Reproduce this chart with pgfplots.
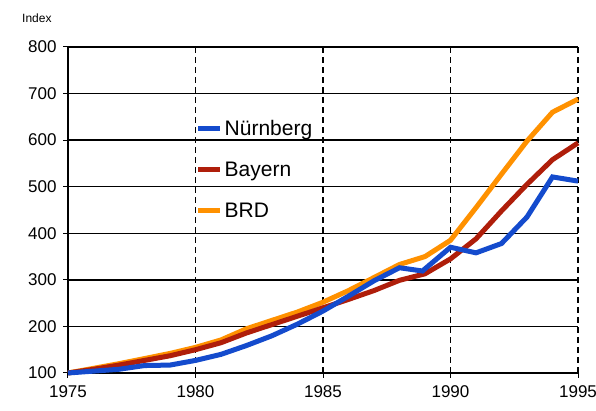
\documentclass[border=0pt]{standalone}
\usepackage{pgfplots}
\pgfplotsset{compat=1.18}
\usepackage{fontspec}
\setmainfont{Liberation Sans}
\definecolor{nbg}{RGB}{20,75,205}
\definecolor{bay}{RGB}{175,30,10}
\definecolor{brd}{RGB}{255,145,0}
\begin{document}
\begin{tikzpicture}
\begin{axis}[
  scale only axis,
  width=510pt, height=326pt,
  xmin=1975, xmax=1995, ymin=100, ymax=800,
  axis lines=left,
  axis line style={line width=2.5pt, -},
  xtick={1975,1980,1985,1990,1995},
  xticklabels={1975,1980,1985,1990,1995},
  ytick={100,200,...,800},
  /pgf/number format/assume math mode=true,
  tick label style={font=\fontsize{17}{19}\selectfont},
  xticklabel style={yshift=-4pt},
  yticklabel style={xshift=-3pt},
  tick align=outside,
  major tick length=5pt,
  tick style={black, line width=1pt},
  ymajorgrids, xmajorgrids,
  y grid style={black, line width=1.3pt},
  x grid style={black, line width=1.5pt, dash pattern=on 6pt off 4pt},
  clip=false,
  reverse legend,
  legend style={at={(axis cs:1980,648)}, anchor=north west, draw=none, fill=none,
    font=\fontsize{21}{23}\selectfont, row sep=21pt, inner sep=0pt},
  legend cell align=left,
  legend image code/.code={\draw[#1, line width=5pt] (0pt,0pt) -- (22pt,0pt);},
]
\addplot[brd, line width=5pt, sharp plot] coordinates {
(1975,100)(1976,110)(1977,120)(1978,131)(1979,142)(1980,155)(1981,171)(1982,195)(1983,213)(1984,231)(1985,252)(1986,277)(1987,305)(1988,333)(1989,350)(1990,385)(1991,455)(1992,527)(1993,598)(1994,660)(1995,688)};
\addlegendentry{BRD}
\addplot[bay, line width=5pt, sharp plot] coordinates {
(1975,100)(1976,108)(1977,117)(1978,127)(1979,137)(1980,150)(1981,165)(1982,186)(1983,204)(1984,222)(1985,240)(1986,258)(1987,277)(1988,299)(1989,313)(1990,345)(1991,388)(1992,448)(1993,505)(1994,558)(1995,594)};
\addlegendentry{Bayern}
\addplot[nbg, line width=5pt, sharp plot] coordinates {
(1975,100)(1976,104)(1977,108)(1978,116)(1979,117)(1980,127)(1981,140)(1982,159)(1983,180)(1984,205)(1985,233)(1986,265)(1987,298)(1988,326)(1988.9,319)(1990,370)(1991,358)(1992,378)(1993,435)(1994,521)(1995,512)};
\addlegendentry{Nürnberg}
\end{axis}
\node[anchor=south west, font=\fontsize{12}{14}\selectfont, inner sep=0pt] at ([xshift=-46pt, yshift=24pt]current axis.north west) {Index};
\pgfresetboundingbox
\path[use as bounding box] ([xshift=-68pt,yshift=-38pt]current axis.south west) rectangle ([xshift=18pt,yshift=47pt]current axis.north east);
\end{tikzpicture}
\end{document}
